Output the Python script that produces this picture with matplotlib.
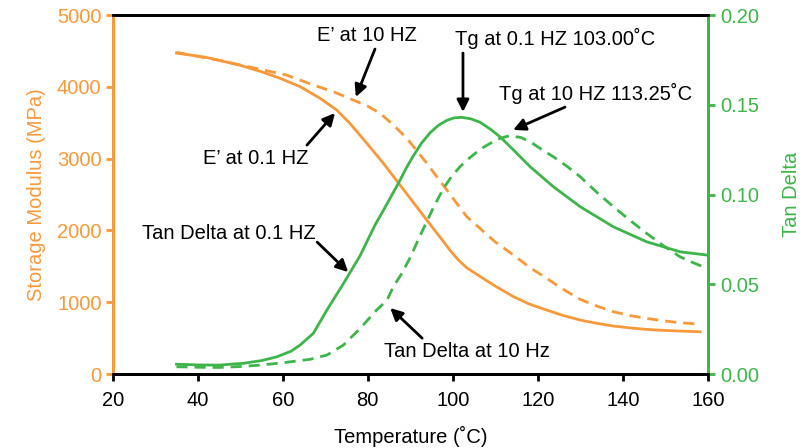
import matplotlib.pyplot as plt

plt.rcParams['font.family'] = ['Liberation Sans', 'DejaVu Sans']

orange = '#F7993B'
green = '#3DB54A'

# storage modulus E' (MPa)
t_e01 = [35, 42, 50, 55, 59.4, 64.1, 68.8, 72.7, 75.8, 79.8, 83.7, 87.6, 91.5, 95.4, 97.5, 99.4, 101.3, 103.3,
         106.4, 110, 114.3, 118, 122.1, 126, 130, 134, 137.8, 141.7, 145.6, 149.5, 153.5, 158.2]
e_01 = [4470, 4410, 4300, 4210, 4118, 4002, 3840, 3677, 3491, 3213, 2934, 2632, 2330, 2029, 1870, 1720, 1590,
        1480, 1360, 1225, 1077, 975, 891, 815, 752, 705, 669, 643, 622, 609, 599, 589]
t_e10 = [35, 45, 55, 60.9, 67.2, 72, 76.6, 80, 82.9, 86, 89.2, 93.9, 98.6, 103.3, 106.4, 110, 114.3, 118,
         122.1, 126, 130, 134, 137.8, 141.7, 145.6, 149.5, 153.5, 157.8]
e_10 = [4480, 4370, 4240, 4164, 4025, 3930, 3816, 3730, 3631, 3470, 3283, 2934, 2563, 2191, 2029, 1840, 1657, 1490,
        1333, 1180, 1040, 945, 868, 815, 775, 742, 715, 696]

# tan delta
t_d01 = [35, 40, 45, 50.7, 55, 58.6, 62, 64.1, 67.2, 70.4, 74.3, 78.2, 81.7, 83.7, 85.5, 87.2, 89, 90.7, 92.7,
         94.7, 96.6, 98.6, 100.3, 102.1, 104.2, 106.4, 108.8, 111.1, 114.3, 118.2, 123.7, 130, 137.8, 145.6,
         153.5, 159.8]
d_01 = [0.0055, 0.0051, 0.005, 0.006, 0.0075, 0.0096, 0.0128, 0.0162, 0.0227, 0.0357, 0.0505, 0.066, 0.083,
        0.0913, 0.099, 0.1062, 0.1145, 0.1215, 0.1288, 0.1345, 0.1385, 0.1413, 0.1427, 0.143, 0.1422, 0.1403,
        0.1365, 0.1322, 0.1248, 0.1155, 0.1043, 0.0932, 0.082, 0.0737, 0.0681, 0.0663]
t_d10 = [35, 40, 45, 50, 54.7, 60, 66.4, 70.4, 74.3, 78.2, 82.1, 84.5, 86, 88, 90, 92, 93.5, 95.5, 97.8, 99.7,
         101.7, 103.5, 105.2, 107, 108.8, 111.1, 113.25, 116, 118.2, 121, 123.7, 127, 130, 134, 137.8, 141.7,
         145.6, 149.5, 153.5, 156.6, 159.8]
d_10 = [0.0041, 0.0038, 0.0037, 0.0042, 0.005, 0.0063, 0.0082, 0.0106, 0.0162, 0.0254, 0.0357, 0.041, 0.0486,
        0.056, 0.065, 0.0755, 0.083, 0.093, 0.1034, 0.110, 0.1155, 0.1195, 0.1228, 0.126, 0.1285, 0.1313, 0.1327,
        0.1318, 0.1294, 0.125, 0.121, 0.1155, 0.1099, 0.101, 0.0932, 0.0856, 0.0784, 0.0716, 0.0653, 0.062, 0.0589]

fs = 14.5
fig = plt.figure(figsize=(8.08, 4.48), dpi=100)
ax1 = fig.add_axes([0.1395, 0.165, 0.7365, 0.8015])
ax2 = ax1.twinx()

ax1.plot(t_e01, e_01, color=orange, lw=2)
ax1.plot(t_e10, e_10, color=orange, lw=2, dashes=(4, 2.5))
ax2.plot(t_d01, d_01, color=green, lw=2)
ax2.plot(t_d10, d_10, color=green, lw=2, dashes=(4, 2.5))

ax1.set_xlim(20, 160)
ax1.set_ylim(0, 5000)
ax2.set_ylim(0, 0.20)
ax1.set_xticks(range(20, 161, 20))
ax1.set_yticks(range(0, 5001, 1000))
ax2.set_yticks([0, 0.05, 0.10, 0.15, 0.20])
ax2.set_yticklabels(['0.00', '0.05', '0.10', '0.15', '0.20'])

for ax in (ax1, ax2):
    for s in ax.spines.values():
        s.set_linewidth(2)
    ax.spines['left'].set_color(orange)
    ax.spines['right'].set_color(green)
    ax.spines['top'].set_color('black')
    ax.spines['bottom'].set_color('black')

ax1.tick_params(axis='x', direction='out', length=5, width=2, labelsize=fs, colors='black', pad=7)
ax1.tick_params(axis='y', direction='out', length=5, width=2, labelsize=fs, colors=orange, pad=3)
ax2.tick_params(axis='y', direction='out', length=5, width=2, labelsize=fs, colors=green, pad=4)

ax1.set_xlabel('Temperature (˚C)', fontsize=fs, labelpad=12)
ax1.set_ylabel('Storage Modulus (MPa)', fontsize=fs, color=orange, labelpad=8)
ax2.set_ylabel('Tan Delta', fontsize=fs, color=green, labelpad=16)

arrow = dict(arrowstyle='-|>', color='black', lw=2, mutation_scale=18, shrinkA=0, shrinkB=0)

ax1.text(79.8, 4721, 'E’ at 10 HZ', fontsize=fs, ha='center', va='center')
ax1.annotate('', xy=(77.2, 3858), xytext=(81.7, 4526), arrowprops=arrow)
ax1.text(53.7, 3008, 'E’ at 0.1 HZ', fontsize=fs, ha='center', va='center')
ax1.annotate('', xy=(72.3, 3635), xytext=(65.7, 3189), arrowprops=arrow)

ax2.text(124.1, 0.1872, 'Tg at 0.1 HZ 103.00˚C', fontsize=fs, ha='center', va='center')
ax2.annotate('', xy=(102.4, 0.146), xytext=(102.4, 0.1788), arrowprops=arrow)
ax2.text(133.5, 0.1565, 'Tg at 10 HZ 113.25˚C', fontsize=fs, ha='center', va='center')
ax2.annotate('', xy=(114.2, 0.136), xytext=(126.4, 0.1487), arrowprops=arrow)
ax2.text(47.4, 0.0785, 'Tan Delta at 0.1 HZ', fontsize=fs, ha='center', va='center')
ax2.annotate('', xy=(75.4, 0.0568), xytext=(68.1, 0.0735), arrowprops=arrow)
ax2.text(103.4, 0.0123, 'Tan Delta at 10 Hz', fontsize=fs, ha='center', va='center')
ax2.annotate('', xy=(85.3, 0.0368), xytext=(92.8, 0.020), arrowprops=arrow)

fig.savefig('out.png', dpi=100)
